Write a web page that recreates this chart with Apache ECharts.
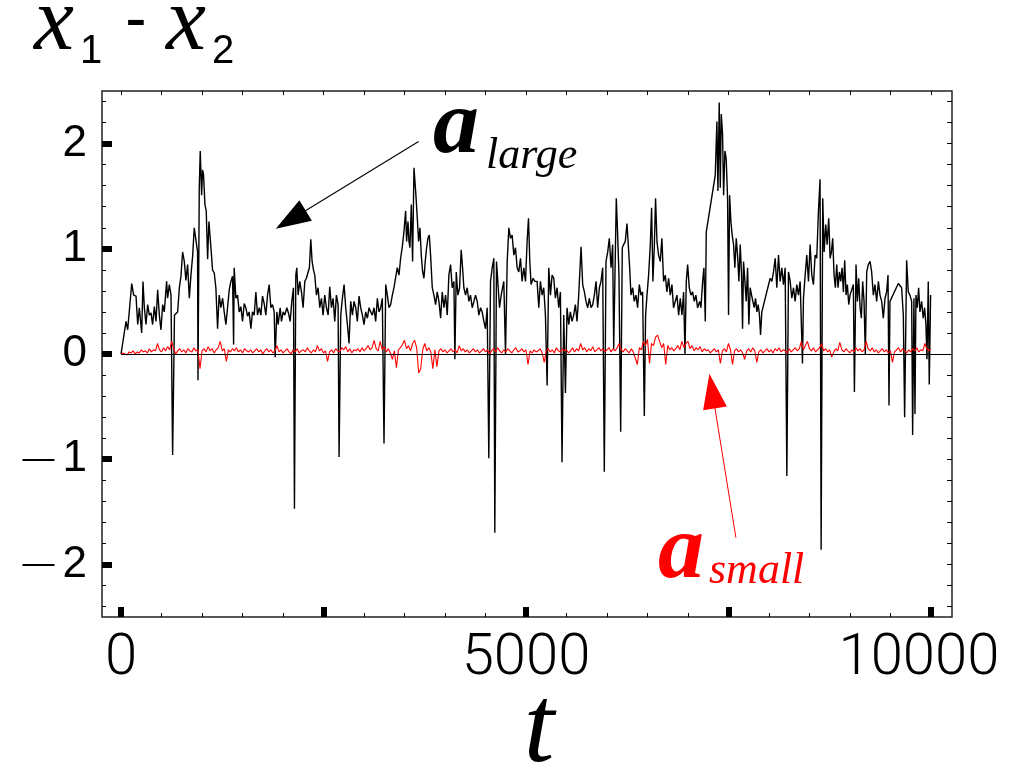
<!DOCTYPE html>
<html><head><meta charset="utf-8">
<script src="https://cdn.jsdelivr.net/npm/echarts@6/dist/echarts.min.js"></script>
<style>html,body{margin:0;padding:0;background:#fff}#c{width:1009px;height:767px}</style>
</head><body><div id="c"></div>
<script>
// ---- axis ticks / labels ----
const xMajorTicks = [0, 2500, 5000, 7500, 10000];
const xMinorTicks = [500, 1000, 1500, 2000, 3000, 3500, 4000, 4500, 5500, 6000, 6500, 7000, 8000, 8500, 9000, 9500];
const xTopTicks = [0, 500, 1000, 1500, 2000, 2500, 3000, 3500, 4000, 4500, 5000, 5500, 6000, 6500, 7000, 7500, 8000, 8500, 9000, 9500, 10000];
const xLabelValues = [0, 5000, 10000];
const yMajorTicks = [-2, -1, 0, 1, 2];
const yMinorTicks = [-2.4, -2.2, -1.8, -1.6, -1.4, -1.2, -0.8, -0.6, -0.4, -0.2, 0.2, 0.4, 0.6, 0.8, 1.2, 1.4, 1.6, 1.8, 2.2, 2.4];
const yRightTicks = [-2.4, -2.2, -2, -1.8, -1.6, -1.4, -1.2, -1, -0.8, -0.6, -0.4, -0.2, 0, 0.2, 0.4, 0.6, 0.8, 1, 1.2, 1.4, 1.6, 1.8, 2, 2.2, 2.4];
const yLabelValues = [-2, -1, 0, 1, 2];

// ---- series: x1 - x2 for a_large (t, value) ----
const largeData = [
[0,0.0],[62,0.31],[82,0.23],[132,0.67],[156,0.56],[185,0.55],[206,0.28],[226,0.44],[255,0.20],[271,0.69],[288,0.44],[308,0.28],[329,0.47],[349,0.37],[370,0.39],[390,0.28],[411,0.45],[432,0.31],[452,0.61],[473,0.37],[493,0.23],[514,0.47],[534,0.40],[563,0.69],[575,0.53],[596,0.66],[617,0.56],[637,-0.96],[660,0.37],[678,0.37],[699,0.40],[720,0.63],[740,0.74],[760,0.97],[781,0.88],[801,0.70],[822,0.85],[843,0.53],[863,0.75],[884,0.93],[904,1.20],[925,1.21],[945,0.97],[950,-0.25],[966,1.58],[978,1.93],[995,1.51],[1007,1.75],[1019,1.70],[1036,1.42],[1052,1.36],[1069,0.90],[1085,1.26],[1110,1.01],[1130,0.80],[1151,0.77],[1171,0.63],[1192,0.24],[1212,0.56],[1233,0.44],[1254,0.53],[1274,0.40],[1295,0.28],[1315,0.44],[1336,0.61],[1356,0.69],[1377,0.74],[1390,0.09],[1397,0.82],[1418,0.53],[1439,0.56],[1459,0.40],[1480,0.45],[1500,0.31],[1521,0.48],[1541,0.44],[1562,0.36],[1582,0.40],[1603,0.24],[1623,0.40],[1644,0.37],[1665,0.59],
[1685,0.37],[1706,0.44],[1726,0.37],[1747,0.55],[1767,0.48],[1788,0.37],[1809,0.56],[1829,0.66],[1850,0.44],[1870,0.47],[1891,0.40],[1903,-0.03],[1924,0.40],[1940,0.28],[1965,0.44],[1981,0.31],[2002,0.40],[2022,0.37],[2047,0.44],[2067,0.39],[2088,0.31],[2109,0.50],[2129,0.63],[2141,-1.47],[2158,0.75],[2170,0.82],[2187,0.56],[2207,0.69],[2228,0.59],[2248,0.44],[2269,0.69],[2289,0.72],[2310,0.78],[2326,0.82],[2343,1.09],[2359,0.88],[2376,0.80],[2392,0.75],[2413,0.56],[2433,0.63],[2454,0.44],[2474,0.53],[2495,0.37],[2515,0.56],[2536,0.44],[2557,0.37],[2577,0.64],[2598,0.44],[2618,0.53],[2639,0.31],[2659,0.56],[2680,0.47],[2692,-0.98],[2713,0.37],[2733,0.53],[2754,0.66],[2774,0.44],[2795,0.28],[2815,0.10],[2836,0.50],[2857,0.37],[2877,0.50],[2898,0.44],[2918,0.31],[2939,0.55],[2959,0.44],[2980,0.37],[3000,0.28],[3021,0.40],[3042,0.34],[3062,0.44],[3083,0.40],[3103,0.37],[3124,0.44],[3144,0.31],[3165,0.53],[3185,0.40],[3206,0.44],[3226,0.53],[3247,-0.85],[3268,0.66],[3288,0.56],[3309,0.44],[3329,0.47],[3350,0.56],[3370,0.63],
[3391,0.63],[3411,0.82],[3432,0.75],[3452,0.91],[3473,1.02],[3493,1.16],[3514,1.36],[3526,1.07],[3543,1.26],[3555,1.07],[3567,1.01],[3584,1.42],[3600,0.88],[3617,1.77],[3629,1.64],[3641,1.51],[3658,1.29],[3674,1.07],[3691,1.20],[3707,0.94],[3724,0.78],[3740,0.72],[3756,0.88],[3773,1.01],[3789,1.10],[3806,1.13],[3822,0.94],[3843,0.63],[3863,0.56],[3884,0.47],[3904,0.59],[3925,0.50],[3946,0.34],[3966,0.59],[3987,0.44],[4007,0.56],[4028,0.37],[4048,0.75],[4069,0.85],[4089,0.63],[4110,0.69],[4122,-0.05],[4139,0.78],[4159,0.56],[4180,0.63],[4200,0.99],[4217,0.82],[4233,0.63],[4254,0.56],[4274,0.63],[4295,0.50],[4315,0.56],[4336,0.44],[4357,0.50],[4377,0.56],[4398,0.50],[4418,0.37],[4439,0.44],[4459,0.40],[4480,0.31],[4500,0.24],[4521,0.44],[4541,-0.99],[4562,0.69],[4583,0.82],[4603,0.91],[4615,-1.70],[4636,0.88],[4652,0.69],[4673,0.44],[4694,0.56],[4726,0.69],[4747,0.0],[4768,0.88],[4788,1.20],[4809,1.10],[4829,1.13],[4850,0.94],[4870,1.01],[4891,0.82],[4911,0.78],[4932,0.91],[4952,0.69],[4973,0.82],[4994,0.69],[5014,1.07],[5031,1.29],[5047,0.88],[5063,0.66],[5088,0.72],[5109,0.69],
[5137,0.69],[5158,0.44],[5178,0.69],[5199,0.56],[5219,0.63],[5240,0.37],[5261,-0.30],[5281,0.82],[5302,0.56],[5322,0.75],[5343,0.72],[5363,0.53],[5384,0.63],[5404,0.44],[5425,0.59],[5445,-1.03],[5466,0.37],[5487,-0.37],[5507,0.44],[5528,0.28],[5548,0.40],[5569,0.31],[5589,0.37],[5610,0.47],[5630,0.31],[5651,0.56],[5680,1.02],[5700,0.66],[5721,0.59],[5741,0.50],[5762,0.44],[5782,0.53],[5803,0.44],[5824,0.47],[5844,0.56],[5865,0.69],[5885,0.44],[5906,0.63],[5926,0.69],[5947,0.82],[5967,-1.12],[5988,0.88],[6009,0.97],[6029,1.10],[6050,0.82],[6070,1.04],[6083,0.05],[6115,1.48],[6132,1.13],[6148,0.75],[6169,-0.74],[6189,1.01],[6206,1.04],[6226,1.07],[6247,1.24],[6263,1.04],[6280,0.82],[6296,0.56],[6317,0.63],[6337,0.50],[6358,0.56],[6378,0.44],[6399,0.66],[6420,0.56],[6440,0.59],[6461,-0.59],[6477,0.37],[6494,0.56],[6514,0.75],[6535,1.04],[6551,1.39],[6567,0.69],[6584,1.01],[6600,1.48],[6617,1.07],[6637,0.94],[6658,0.88],[6678,1.10],[6699,0.69],[6720,0.75],[6740,0.59],[6761,0.72],[6781,0.56],[6802,0.66],[6822,0.44],
[6844,0.44],[6864,0.56],[6885,0.37],[6905,0.53],[6926,0.37],[6946,0.59],[6963,0.0],[6979,0.69],[6996,0.85],[7016,0.63],[7037,0.56],[7057,0.59],[7078,0.50],[7098,0.56],[7119,0.44],[7144,0.50],[7160,0.44],[7181,0.69],[7197,0.82],[7214,0.31],[7226,1.16],[7337,1.70],[7357,2.21],[7370,1.55],[7386,2.39],[7399,1.58],[7411,2.28],[7427,2.09],[7440,1.51],[7456,1.93],[7472,1.86],[7489,1.48],[7501,0.37],[7514,1.51],[7530,1.26],[7546,1.13],[7563,1.04],[7579,0.82],[7596,1.10],[7612,0.94],[7629,0.69],[7645,1.04],[7662,0.75],[7674,0.24],[7686,0.88],[7703,0.69],[7719,0.50],[7736,0.82],[7752,0.28],[7768,0.63],[7785,0.56],[7801,0.50],[7818,0.44],[7834,0.53],[7851,0.40],[7867,0.47],[7883,0.37],[7896,0.18],[7912,0.40],[8015,0.72],[8036,0.69],[8056,0.78],[8077,0.91],[8097,0.63],[8118,0.94],[8138,0.69],[8159,0.82],[8179,0.66],[8200,0.82],[8221,-1.16],[8241,0.78],[8262,0.69],[8282,0.53],[8303,0.63],[8323,0.50],[8344,0.66],[8364,0.56],[8385,0.69],[8414,-0.09],[8426,0.53],[8447,0.75],[8467,0.94],[8488,0.69],[8508,1.04],[8529,0.75],[8549,0.66],
[8570,0.94],[8590,0.91],[8611,1.36],[8631,1.66],[8644,-1.86],[8664,1.48],[8681,0.97],[8701,1.23],[8718,1.04],[8738,1.29],[8755,0.91],[8771,0.97],[8787,1.10],[8804,0.75],[8820,0.63],[8837,0.85],[8853,0.63],[8870,0.78],[8886,0.69],[8903,0.82],[8919,0.59],[8935,0.89],[8952,0.56],[8968,0.66],[8985,0.47],[9001,0.56],[9022,0.56],[9042,0.66],[9055,-0.36],[9075,0.85],[9092,0.50],[9108,0.72],[9125,0.44],[9141,0.34],[9157,0.69],[9174,0.50],[9190,0.0],[9207,0.78],[9227,0.85],[9248,0.88],[9268,0.78],[9289,0.56],[9309,0.66],[9330,0.50],[9351,0.69],[9371,0.56],[9392,0.50],[9412,0.34],[9433,0.53],[9453,0.59],[9470,0.75],[9482,-0.49],[9494,0.50],[9597,0.67],[9618,0.66],[9638,0.63],[9659,0.37],[9675,-0.60],[9700,0.89],[9720,0.59],[9741,0.56],[9762,0.50],[9774,-0.77],[9790,0.53],[9803,-0.57],[9815,0.56],[9831,0.44],[9848,0.63],[9864,0.40],[9885,0.50],[9905,0.34],[9922,0.44],[9938,0.28],[9951,-0.05],[9967,0.69],[9979,-0.29],[9996,0.56]
];

// ---- series: x1 - x2 for a_small, sampled every smallStep from t = smallStart ----
const smallStart = 0;
const smallStep = 25;
const smallValues = [
0.00,0.01,0.00,-0.01,0.02,0.01,0.03,0.00,0.02,0.01,0.04,0.02,0.03,0.01,0.05,0.02,0.04,0.03,0.10,0.04,
0.02,0.06,0.03,0.07,0.04,0.12,0.05,0.00,0.03,0.05,0.02,0.04,0.01,0.05,0.03,0.02,0.06,0.03,0.04,-0.14,
0.03,0.05,0.02,0.07,0.03,0.05,0.01,0.04,0.06,0.12,0.03,0.05,-0.07,0.04,0.02,0.05,0.03,0.06,0.02,0.04,
0.01,0.05,0.03,0.02,0.04,0.01,0.03,0.05,0.02,0.04,0.00,0.03,0.05,0.02,0.04,0.01,0.03,0.08,0.02,0.04,
0.01,0.03,0.05,0.02,0.00,0.04,0.02,0.05,0.01,0.03,0.04,0.02,0.06,0.03,0.01,0.04,0.02,0.08,0.03,0.05,
0.01,0.03,-0.07,0.02,0.04,0.01,0.05,0.03,0.02,0.06,0.04,0.07,0.02,0.05,0.01,0.04,0.03,0.05,0.02,0.06,
0.03,0.05,0.08,0.04,0.06,0.13,0.05,0.03,0.12,0.04,0.07,0.02,0.05,0.01,-0.05,0.03,-0.13,0.04,0.06,0.09,
0.13,0.05,0.08,0.03,0.10,0.13,0.06,-0.18,-0.14,0.04,0.10,0.03,0.06,0.02,-0.14,0.04,-0.12,0.03,0.05,0.02,
0.04,0.01,0.03,0.05,0.02,0.04,0.01,0.08,0.03,0.05,0.02,0.04,0.01,0.03,0.05,0.02,0.04,0.01,0.03,0.05,
0.02,0.04,0.00,0.03,0.05,0.02,0.06,0.03,0.01,0.04,0.02,0.05,0.03,0.01,0.04,0.06,0.02,0.03,0.05,0.02,
0.04,-0.10,0.03,0.01,0.04,0.02,0.03,0.05,0.01,-0.08,0.03,0.05,0.02,0.04,0.01,0.06,0.03,0.02,0.05,0.03,
0.04,0.01,0.03,0.06,0.02,0.05,0.03,0.10,0.04,0.06,0.02,0.05,0.03,0.07,0.02,0.04,0.06,0.03,0.05,0.02,
0.04,0.06,0.02,0.05,0.03,0.06,0.10,0.04,0.02,0.05,0.03,0.01,0.05,0.02,-0.04,-0.10,0.06,0.04,0.12,0.08,
0.14,-0.09,0.10,0.08,0.16,0.18,0.12,0.06,0.10,-0.10,0.08,0.04,0.06,0.03,0.05,0.08,0.04,0.12,0.06,0.10,
0.12,0.05,0.08,0.03,0.06,0.04,0.07,0.02,0.05,0.03,0.04,0.01,0.03,0.05,0.02,0.04,-0.09,0.03,0.05,0.02,
0.10,0.04,-0.10,0.03,0.05,0.02,0.04,0.01,-0.05,0.03,0.05,0.02,0.06,0.03,-0.08,0.02,0.04,0.01,0.03,0.05,
0.02,0.04,0.01,0.05,0.03,0.06,0.02,0.04,0.03,0.01,0.05,0.02,0.04,0.06,0.03,0.05,0.12,0.04,0.08,0.12,
0.05,0.03,0.06,0.02,0.04,0.06,0.10,0.03,0.05,0.02,0.04,-0.03,0.02,0.05,0.03,0.11,0.04,0.02,0.05,0.03,
0.01,0.04,0.02,0.06,0.03,0.05,0.02,0.04,0.12,0.05,0.03,0.06,0.02,0.04,0.01,0.03,0.05,0.02,0.04,0.01,
0.03,-0.08,0.02,0.04,0.06,0.02,0.05,0.03,0.01,0.04,0.02,0.05,0.03,0.06,0.02,0.04,0.03,0.10,0.05,0.03,
0.05
];
const smallData = smallValues.map((v, i) => [smallStart + i * smallStep, v]);

// ---- annotation arrows (data coordinates: start, arrow-head centre) ----
const largeArrow = [[3674, 2.02], [2095, 1.277]];
const smallArrow = [[7592, -1.746], [7299, -0.353]];

const X_MIN = -235, X_MAX = 10260, Y_MIN = -2.5, Y_MAX = 2.5;
const SERIF = 'Liberation Serif';
const SANS = 'Liberation Sans';

function xAxisBase(extra) {
  return Object.assign({
    type: 'value', min: X_MIN, max: X_MAX, gridIndex: 0,
    axisLine: { show: false, onZero: false },
    splitLine: { show: false },
    axisLabel: { show: false }
  }, extra);
}
function yAxisBase(extra) {
  return Object.assign({
    type: 'value', min: Y_MIN, max: Y_MAX, gridIndex: 0,
    axisLine: { show: false, onZero: false },
    splitLine: { show: false },
    axisLabel: { show: false }
  }, extra);
}
function txt(x, y, text, size, opts) {
  return { type: 'text', x: x, y: y, silent: true,
    style: Object.assign({ text: text, fontSize: size, fontFamily: SERIF, fill: '#000', verticalAlign: 'middle' }, opts || {}) };
}

const chart = echarts.init(document.getElementById('c'), null, { renderer: 'canvas' });
chart.setOption({
  animation: false,
  backgroundColor: '#ffffff',
  grid: { left: 102, top: 91, width: 850, height: 526, show: true, borderColor: '#222', borderWidth: 1.5,
    backgroundColor: 'transparent', containLabel: false, outerBoundsMode: 'none' },
  xAxis: [
    xAxisBase({ position: 'bottom',
      axisTick: { show: true, inside: true, length: 10, customValues: xMajorTicks, lineStyle: { color: '#000', width: 6 } },
      axisLabel: { show: true, customValues: xLabelValues, margin: 13, color: '#000', fontFamily: 'Roboto', fontWeight: 300, fontSize: 58,
        formatter: v => v === 10000 ? '{r|' + String(v) + '}' : String(v),
        rich: { r: { fontFamily: 'Roboto', fontWeight: 300, fontSize: 58, color: '#000', padding: [0, 24, 0, 0] } } } }),
    xAxisBase({ position: 'bottom',
      axisTick: { show: true, inside: true, length: 4, customValues: xMinorTicks, lineStyle: { color: '#000', width: 1 } } }),
    xAxisBase({ position: 'top',
      axisTick: { show: true, inside: true, length: 4, customValues: xTopTicks, lineStyle: { color: '#000', width: 1 } } })
  ],
  yAxis: [
    yAxisBase({ position: 'left',
      axisTick: { show: true, inside: true, length: 10, customValues: yMajorTicks, lineStyle: { color: '#000', width: 6 } },
      axisLabel: { show: true, customValues: yLabelValues, margin: 15, color: '#000', fontFamily: SANS, fontSize: 44,
        formatter: v => v < 0 ? '{m|\u2014}{n|' + Math.abs(v) + '}' : '{n|' + v + '}',
        rich: { m: { fontFamily: SANS, fontSize: 32, color: '#000', width: 40, align: 'left' }, n: { fontFamily: SANS, fontSize: 44, color: '#000' } } } }),
    yAxisBase({ position: 'left',
      axisTick: { show: true, inside: true, length: 4, customValues: yMinorTicks, lineStyle: { color: '#000', width: 1 } } }),
    yAxisBase({ position: 'right',
      axisTick: { show: true, inside: true, length: 5, customValues: yRightTicks, lineStyle: { color: '#000', width: 1 } } })
  ],
  series: [
    {
      name: 'a_large', type: 'line', xAxisIndex: 0, yAxisIndex: 0,
      data: largeData, showSymbol: false, symbol: 'none',
      lineStyle: { color: '#000', width: 1.4 }, z: 3,
      markLine: {
        silent: true, animation: false, symbol: ['none', 'triangle'], symbolSize: [24, 35],
        label: { show: false },
        lineStyle: { color: '#000', width: 1.1, type: 'solid' },
        data: [
          [{ coord: [0, 0], symbol: 'none' }, { coord: [X_MAX, 0], symbol: 'none' }],
          [{ coord: largeArrow[0] }, { coord: largeArrow[1] }]
        ]
      }
    },
    {
      name: 'a_small', type: 'line', xAxisIndex: 0, yAxisIndex: 0,
      data: smallData, showSymbol: false, symbol: 'none',
      lineStyle: { color: '#ff0000', width: 1.1 }, z: 4,
      markLine: {
        silent: true, animation: false, symbol: ['none', 'triangle'], symbolSize: [24, 35],
        label: { show: false },
        lineStyle: { color: '#ff0000', width: 1, type: 'solid' },
        data: [ [{ coord: smallArrow[0] }, { coord: smallArrow[1] }] ]
      }
    }
  ],
  graphic: [
    txt(34, 25, 'x', 90, { fontStyle: 'italic' }),
    txt(80, 52, '1', 40, { fontFamily: SANS }),
    txt(136, 22, '-', 64, { fontFamily: SANS, align: 'center' }),
    txt(166, 25, 'x', 90, { fontStyle: 'italic' }),
    txt(212, 52, '2', 40, { fontFamily: SANS }),
    txt(539, 732, 't', 110, { fontStyle: 'italic', align: 'center' }),
    txt(433, 128, 'a', 92, { fontStyle: 'italic', fontWeight: 'bold' }),
    txt(486, 156, 'large', 44, { fontStyle: 'italic' }),
    txt(658, 553, 'a', 92, { fontStyle: 'italic', fontWeight: 'bold', fill: '#ff0000' }),
    txt(709, 571, 'small', 44, { fontStyle: 'italic', fill: '#ff0000' })
  ]
});
</script></body></html>
